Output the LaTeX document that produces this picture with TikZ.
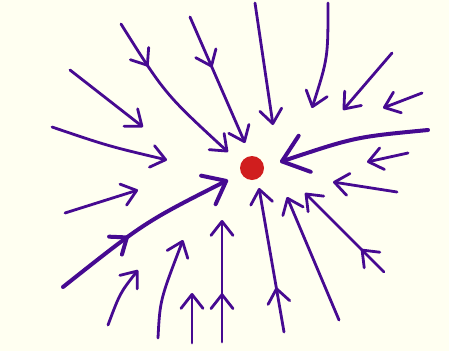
\documentclass[tikz,border=0pt]{standalone}
\usepackage{xcolor}
\usepackage{tikz}
\usetikzlibrary{arrows.meta,decorations.markings}
\definecolor{fieldpurple}{RGB}{70,10,145}
\definecolor{chargered}{RGB}{208,30,30}
\definecolor{papercream}{RGB}{255,255,241}
\tikzset{
  fieldline/.style={draw=fieldpurple, line width=2.8pt, line cap=round,
    -{Straight Barb[length=14pt, width=22pt, round]}},
  heavyline/.style={fieldline, line width=4pt,
    -{Straight Barb[length=24pt, width=38pt, round]}},
  midtip/.style={postaction={decorate}, decoration={markings,
    mark=at position #1 with {\arrow{Straight Barb[length=14pt, width=22pt, round]}}}},
  charge/.style={circle, fill=chargered, minimum size=24pt, inner sep=0pt}
}

\begin{document}
\begin{tikzpicture}[x=1pt, y=-1pt]
\fill[papercream] (0,0) rectangle (449,351);
\node[charge] (q) at (252,168) {};

% lines from the top and the left
\draw[fieldline, midtip=0.3] (121,24) .. controls (165,94) .. (228,152);
\draw[fieldline, midtip=0.4] (190,17) -- (245,143);
\draw[fieldline] (70,70) -- (143,127);
\draw[fieldline] (52,127) .. controls (108,146) .. (167,160);
\draw[fieldline] (255,3) -- (273,125);
\draw[fieldline] (328,3) .. controls (328,58) .. (312,108);

% lines from the right
\draw[fieldline] (392,53) -- (343,110);
\draw[fieldline] (422,93) -- (383,108);
\draw[heavyline] (428,130) .. controls (355,137) .. (280,162);
\draw[fieldline] (408,153) -- (367,162);
\draw[fieldline] (397,192) -- (333,182);
\draw[fieldline, midtip=0.29] (384,272) -- (305,193);

% lines from below
\draw[fieldline] (339,320) -- (287,197);
\draw[fieldline, midtip=0.31] (284,332) -- (259,188);
\draw[fieldline, midtip=0.4] (222,342) -- (222,220);
\draw[fieldline] (192,343) -- (192,293);
\draw[fieldline] (158,338) .. controls (160,300) .. (183,240);
\draw[fieldline] (108,325) .. controls (120,293) .. (138,270);
\draw[heavyline, midtip=0.42,
  -{Straight Barb[length=20pt, width=32pt, round]}]
  (63,287) .. controls (145,222) .. (228,180);
\draw[fieldline] (65,213) -- (138,190);
\end{tikzpicture}
\end{document}
